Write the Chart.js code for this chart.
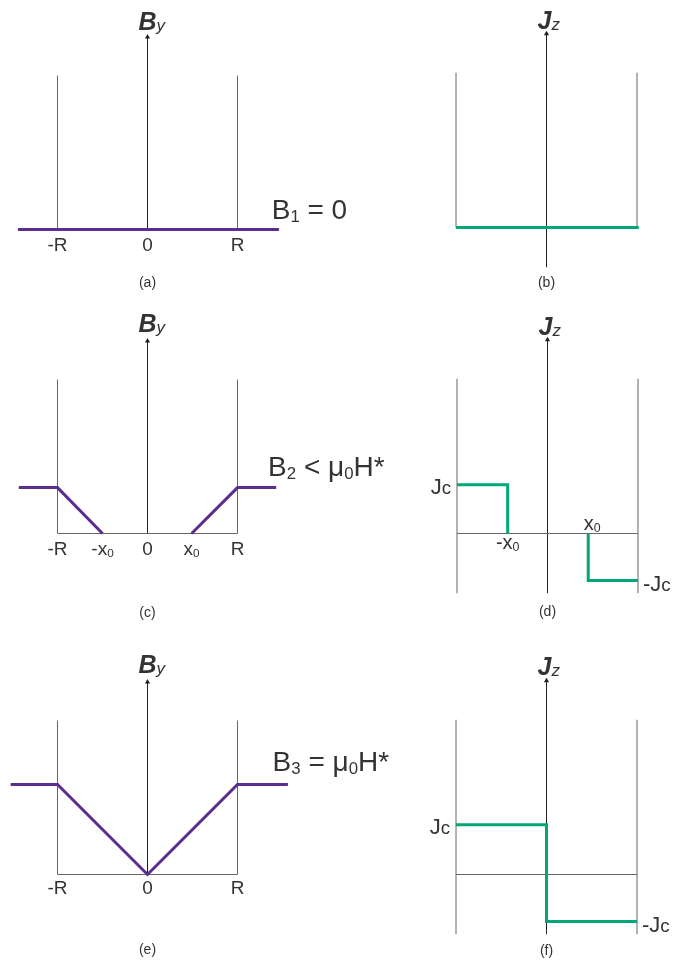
<!DOCTYPE html>
<html>
<head>
<meta charset="utf-8">
<title>Bean model: field and current profiles</title>
<script src="https://cdn.jsdelivr.net/npm/chart.js@4.4.1/dist/chart.umd.min.js"></script>
<style>
  html, body { margin: 0; padding: 0; background: #fff; }
  #page { position: relative; width: 675px; height: 960px; overflow: hidden; }
  #page canvas { position: absolute; }
</style>
</head>
<body>
<div id="page">
  <canvas id="panelA"></canvas>
  <canvas id="panelB"></canvas>
  <canvas id="panelC"></canvas>
  <canvas id="panelD"></canvas>
  <canvas id="panelE"></canvas>
  <canvas id="panelF"></canvas>
</div>
<script>
// positions are in units of the slab half-width R, levels in the same units
const tickPos = [-1, 0, 1];
const tickText = ["-R", "0", "R"];
const tickPosC = [-1, -0.5, 0, 0.49, 1];
const tickTextC = ["-R", "-x_0", "0", "x_0", "R"];

// B_y profiles
const xA = [-1.44, 1.46];
const byA = [0, 0];
const xC1 = [-1.43, -1, -0.5];
const byC1 = [0.51, 0.51, 0];
const xC2 = [0.49, 1, 1.43];
const byC2 = [0, 0.51, 0.51];
const xE = [-1.52, -1, 0, 1, 1.56];
const byE = [1, 1, 0, 1, 1];

// J_z profiles
const xB = [-1, 1.02];
const jzB = [0, 0];
const xD1 = [-1, -0.44, -0.44];
const jzD1 = [0.54, 0.54, 0];
const xD2 = [0.45, 0.45, 1];
const jzD2 = [0, -0.52, -0.52];
const xF = [-1, 0, 0, 1];
const jzF = [0.55, 0.55, -0.52, -0.52];

// guide lines
const guideTop = 1.71;
const axisTop = 2.14;
const lowerEdge = -0.66;
const lowerAxisB = -0.44;

const FAMILY = '"Liberation Sans", Arial, Helvetica, sans-serif';
const TEXT = "#333";
const GUIDE = "#666";
const AXIS = "#222";
const PURPLE = "#5b2d8e";
const GREEN = "#00a878";

// split "B_1 = 0" into normal / subscript runs
function splitRuns(text) {
  const runs = [];
  let buf = "";
  for (let i = 0; i < text.length; i++) {
    if (text[i] === "_" && i + 1 < text.length) {
      if (buf) runs.push({ t: buf, sub: false });
      runs.push({ t: text[i + 1], sub: true });
      buf = "";
      i++;
    } else {
      buf += text[i];
    }
  }
  if (buf) runs.push({ t: buf, sub: false });
  return runs;
}

const notesPlugin = {
  id: "notes",
  afterDatasetsDraw(chart, args, opts) {
    const { ctx } = chart;
    const { x: sx, y: sy } = chart.scales;
    (opts.items || []).forEach((n) => {
      const runs = splitRuns(n.text);
      const subSize = n.size * (n.subScale || 0.6);
      const fontOf = (r) =>
        r.sub
          ? `${n.subStyle || ""} ${subSize}px ${FAMILY}`
          : `${n.style || ""} ${n.size}px ${FAMILY}`;
      ctx.save();
      ctx.fillStyle = TEXT;
      ctx.textBaseline = "alphabetic";
      ctx.textAlign = "left";
      let w = 0;
      runs.forEach((r) => {
        ctx.font = fontOf(r);
        r.w = ctx.measureText(r.t).width;
        w += r.w;
      });
      let px = sx.getPixelForValue(n.x) + (n.dx || 0);
      const py = sy.getPixelForValue(n.y) + (n.dy || 0);
      if (n.align === "center") px -= w / 2;
      else if (n.align === "right") px -= w;
      const drop = n.drop !== undefined ? n.drop : n.size * 0.12;
      runs.forEach((r) => {
        ctx.font = fontOf(r);
        ctx.fillText(r.t, px, py + (r.sub ? drop : 0));
        px += r.w;
      });
      ctx.restore();
    });
  },
};

function series(xs, ys, color, width) {
  return {
    data: xs.map((v, i) => ({ x: v, y: ys[i] })),
    showLine: true,
    borderColor: color,
    borderWidth: width,
    borderJoinStyle: "miter",
    borderCapStyle: "butt",
    pointRadius: 0,
    fill: false,
    clip: false,
  };
}

function frame(lo, axisLo) {
  const axis = series([0, 0], [axisLo, axisTop], AXIS, 1);
  axis.pointRadius = [0, 3];
  axis.pointStyle = "triangle";
  axis.pointBackgroundColor = AXIS;
  axis.pointBorderColor = AXIS;
  axis.pointBorderWidth = 0;
  return [
    series([-1, -1], [lo, guideTop], GUIDE, 1),
    series([1, 1], [lo, guideTop], GUIDE, 1),
    series([-1, 1], [0, 0], GUIDE, 1),
    axis,
  ];
}

function tickNotes(pos, text, dy) {
  return pos.map((p, i) => ({ x: p, y: 0, dy, text: text[i], size: 19, align: "center", subScale: 0.62, drop: 2 }));
}

function title(text, dy) {
  return { x: 0, y: axisTop, dx: -9, dy, text, size: 25, style: "italic bold", subStyle: "italic", subScale: 0.68, drop: 1 };
}

function caption(text, dy) {
  return { x: 0, y: 0, dy, text, size: 14, align: "center" };
}

// box: page rectangle of the canvas; anchor: page pixel of (0, 0) and pixels per unit
function makePanel(id, box, anchor, datasets, items) {
  const canvas = document.getElementById(id);
  canvas.width = box.w;
  canvas.height = box.h;
  canvas.style.left = box.left + "px";
  canvas.style.top = box.top + "px";
  canvas.style.width = box.w + "px";
  canvas.style.height = box.h + "px";
  const u = anchor.u;
  return new Chart(canvas, {
    type: "scatter",
    data: { datasets },
    options: {
      responsive: false,
      animation: false,
      devicePixelRatio: 1,
      layout: { padding: 0, autoPadding: false },
      scales: {
        x: { type: "linear", display: false, min: (box.left - anchor.cx) / u, max: (box.left + box.w - anchor.cx) / u },
        y: { type: "linear", display: false, min: (anchor.by - box.top - box.h) / u, max: (anchor.by - box.top) / u },
      },
      plugins: {
        legend: { display: false },
        tooltip: { enabled: false },
        notes: { items },
      },
    },
    plugins: [notesPlugin],
  });
}

const leftBox = (top, h) => ({ left: 0, top, w: 410, h });
const rightBox = (top, h) => ({ left: 415, top, w: 260, h });

// (a) B_y with B1 = 0
makePanel("panelA", leftBox(0, 300), { cx: 147.5, by: 229.5, u: 90 },
  [series(xA, byA, PURPLE, 3), ...frame(0, 0)],
  [
    ...tickNotes(tickPos, tickText, 21),
    { x: 1.38, y: 0, dy: -11, text: "B_1 = 0", size: 28 },
    title("B_y", -7),
    caption("(a)", 57),
  ]);

// (b) J_z, no current
makePanel("panelB", rightBox(0, 300), { cx: 546.5, by: 227.5, u: 90.5 },
  [series(xB, jzB, GREEN, 3), ...frame(0, lowerAxisB)],
  [title("J_z", -5), caption("(b)", 59)]);

// (c) B_y with B2 < mu0 H*
makePanel("panelC", leftBox(300, 340), { cx: 147.5, by: 533.5, u: 90 },
  [series(xC1, byC1, PURPLE, 3), series(xC2, byC2, PURPLE, 3), ...frame(0, 0)],
  [
    ...tickNotes(tickPosC, tickTextC, 21),
    { x: 1.34, y: 0, dy: -58, text: "B_2 < μ_0H*", size: 28 },
    title("B_y", -9),
    caption("(c)", 83),
  ]);

// (d) J_z penetrated down to x0
makePanel("panelD", rightBox(300, 340), { cx: 547.5, by: 533.5, u: 90.5 },
  [series(xD1, jzD1, GREEN, 3), series(xD2, jzD2, GREEN, 3), ...frame(lowerEdge, lowerEdge)],
  [
    { x: -1, y: jzD1[0], dx: -6, dy: 9, text: "J_c", size: 22, subScale: 0.85, drop: 0, align: "right" },
    { x: 1, y: jzD2[2], dx: 5, dy: 10, text: "-J_c", size: 22, subScale: 0.85, drop: 0 },
    { x: xD1[1], y: 0, dy: 15, text: "-x_0", size: 20, subScale: 0.62, drop: 2, align: "center" },
    { x: xD2[0], y: 0, dx: 4, dy: -4, text: "x_0", size: 20, subScale: 0.62, drop: 2, align: "center" },
    title("J_z", -5),
    caption("(d)", 82),
  ]);

// (e) B_y with B3 = mu0 H*
makePanel("panelE", leftBox(640, 320), { cx: 147.5, by: 874.5, u: 90 },
  [series(xE, byE, PURPLE, 3), ...frame(0, 0)],
  [
    ...tickNotes(tickPos, tickText, 19),
    { x: 1.39, y: 0, dy: -104, text: "B_3 = μ_0H*", size: 28 },
    title("B_y", -9),
    caption("(e)", 79),
  ]);

// (f) J_z fully penetrated
makePanel("panelF", rightBox(640, 320), { cx: 546.5, by: 874.5, u: 90.5 },
  [series(xF, jzF, GREEN, 3), ...frame(lowerEdge, lowerEdge)],
  [
    { x: -1, y: jzF[0], dx: -6, dy: 9, text: "J_c", size: 22, subScale: 0.85, drop: 0, align: "right" },
    { x: 1, y: jzF[3], dx: 5, dy: 10, text: "-J_c", size: 22, subScale: 0.85, drop: 0 },
    title("J_z", -6),
    caption("(f)", 80),
  ]);
</script>
</body>
</html>
